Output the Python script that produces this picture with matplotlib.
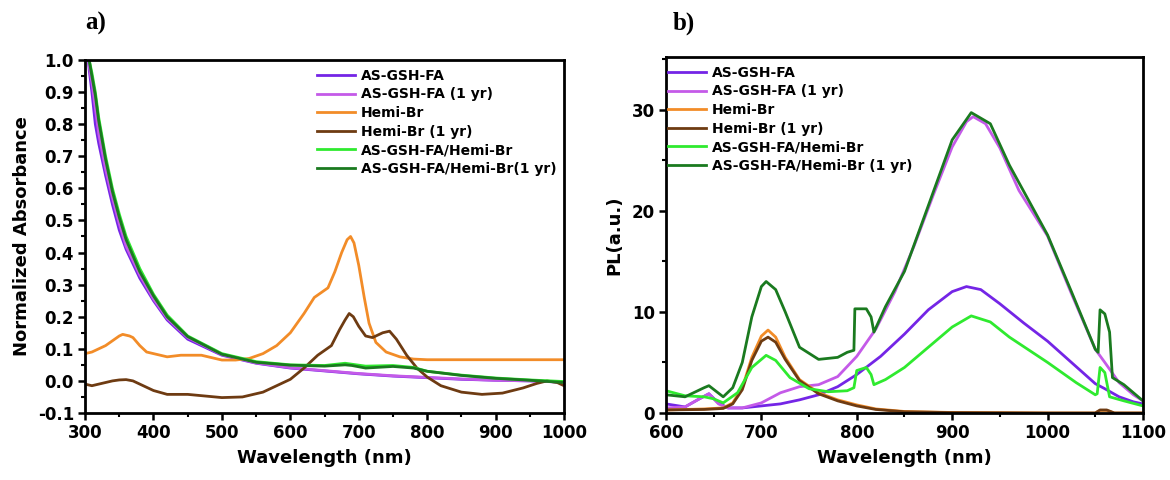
import matplotlib
matplotlib.use("Agg")
import matplotlib.pyplot as plt
from matplotlib.ticker import MultipleLocator

plt.rcParams['font.family'] = ['DejaVu Sans']
plt.rcParams['font.weight'] = 'bold'

# ---- panel a) absorbance ----
abs_labels = ["AS-GSH-FA", "AS-GSH-FA (1 yr)", "Hemi-Br", "Hemi-Br (1 yr)",
              "AS-GSH-FA/Hemi-Br", "AS-GSH-FA/Hemi-Br(1 yr)"]

wl_fa = [303, 306, 310, 315, 320, 330, 340, 350, 360, 380, 400, 420, 450, 500,
         550, 600, 650, 700, 750, 800, 850, 900, 950, 1000]
abs_fa = [1.05, 0.97, 0.9, 0.8, 0.74, 0.64, 0.55, 0.47, 0.41, 0.32, 0.25, 0.19, 0.13,
          0.08, 0.055, 0.04, 0.031, 0.022, 0.015, 0.01, 0.005, 0.002, 0.0, -0.004]
abs_fa_1yr = [1.05, 0.98, 0.93, 0.85, 0.77, 0.66, 0.57, 0.49, 0.42, 0.33, 0.255, 0.195,
              0.135, 0.082, 0.056, 0.041, 0.032, 0.023, 0.016, 0.011, 0.006, 0.002, 0.0,
              -0.004]

wl_mix = [303, 306, 310, 315, 320, 330, 340, 350, 360, 380, 400, 420, 450, 500, 550,
          600, 650, 680, 690, 710, 750, 780, 800, 850, 900, 950, 1000]
abs_mix = [1.05, 1.0, 0.96, 0.9, 0.82, 0.7, 0.6, 0.52, 0.45, 0.35, 0.27, 0.205, 0.14,
           0.085, 0.06, 0.05, 0.048, 0.055, 0.052, 0.046, 0.048, 0.042, 0.03, 0.018,
           0.009, 0.003, -0.002]
abs_mix_1yr = [1.05, 1.0, 0.95, 0.89, 0.81, 0.69, 0.59, 0.51, 0.44, 0.34, 0.265, 0.2,
               0.138, 0.083, 0.058, 0.049, 0.046, 0.05, 0.048, 0.04, 0.045, 0.04, 0.03,
               0.017, 0.008, 0.002, -0.005]

wl_hb = [300, 310, 320, 330, 340, 350, 355, 365, 370, 380, 390, 400, 420, 440, 450,
         470, 480, 500, 520, 540, 560, 580, 600, 620, 635, 645, 655, 665, 675, 683,
         688, 693, 700, 708, 715, 725, 740, 760, 780, 800, 850, 900, 950, 1000]
abs_hb = [0.085, 0.09, 0.1, 0.11, 0.125, 0.14, 0.145, 0.14, 0.135, 0.11, 0.09, 0.085,
          0.075, 0.08, 0.08, 0.08, 0.075, 0.065, 0.065, 0.07, 0.085, 0.11, 0.15, 0.21,
          0.26, 0.275, 0.29, 0.34, 0.4, 0.44, 0.45, 0.43, 0.36, 0.26, 0.18, 0.12, 0.09,
          0.075, 0.068, 0.066, 0.066, 0.066, 0.066, 0.066]

wl_hb1 = [300, 310, 320, 330, 340, 350, 360, 370, 380, 400, 420, 450, 480, 500, 530,
          560, 580, 600, 620, 640, 660, 672, 680, 686, 692, 700, 710, 720, 735, 745,
          755, 770, 785, 800, 820, 850, 880, 910, 940, 960, 975, 990, 1000]
abs_hb1 = [-0.01, -0.015, -0.01, -0.005, 0.0, 0.003, 0.004, 0.0, -0.01, -0.03, -0.042,
           -0.042, -0.048, -0.052, -0.05, -0.035, -0.015, 0.005, 0.04, 0.08, 0.11, 0.16,
           0.19, 0.21, 0.2, 0.17, 0.14, 0.135, 0.15, 0.155, 0.13, 0.08, 0.04, 0.012,
           -0.015, -0.035, -0.042, -0.038, -0.022, -0.008, 0.0, -0.005, -0.015]

# ---- panel b) PL ----
pl_labels = ["AS-GSH-FA", "AS-GSH-FA (1 yr)", "Hemi-Br", "Hemi-Br (1 yr)",
             "AS-GSH-FA/Hemi-Br", "AS-GSH-FA/Hemi-Br (1 yr)"]

wl_pl_fa = [600, 620, 635, 645, 655, 665, 680, 700, 720, 740, 760, 780, 800, 825,
            850, 875, 900, 915, 930, 950, 975, 1000, 1025, 1050, 1060, 1075, 1090, 1100]
pl_fa = [0.9, 0.6, 1.4, 1.9, 1.0, 0.5, 0.5, 0.7, 0.9, 1.3, 1.8, 2.6, 3.8, 5.6, 7.8,
         10.2, 12.0, 12.5, 12.2, 10.8, 8.9, 7.1, 5.0, 2.9, 2.4, 1.6, 1.1, 0.9]

wl_pl_fa1 = [600, 620, 635, 645, 655, 665, 680, 700, 720, 740, 760, 780, 800, 820,
             840, 860, 880, 900, 915, 922, 935, 950, 970, 1000, 1025, 1050, 1060, 1075,
             1090, 1100]
pl_fa1 = [0.5, 0.6, 1.4, 1.9, 0.9, 0.5, 0.5, 1.0, 2.0, 2.6, 2.8, 3.6, 5.6, 8.3, 12.0,
          16.5, 21.5, 26.3, 28.8, 29.3, 28.6, 26.2, 22.0, 17.5, 11.8, 6.3, 5.0, 3.0,
          1.8, 1.2]

wl_pl_hb = [600, 640, 660, 670, 680, 690, 700, 707, 715, 725, 740, 760, 780, 800, 820,
            850, 900, 1000, 1050, 1055, 1062, 1070, 1100]
pl_hb = [0.3, 0.4, 0.5, 1.0, 2.5, 5.5, 7.6, 8.2, 7.5, 5.5, 3.3, 2.0, 1.3, 0.8, 0.4,
         0.15, 0.05, 0.0, 0.0, 0.25, 0.25, 0.0, 0.0]
pl_hb1 = [0.3, 0.35, 0.45, 0.9, 2.3, 5.2, 7.1, 7.5, 7.0, 5.3, 3.2, 1.9, 1.2, 0.7, 0.35,
          0.12, 0.04, 0.0, 0.0, 0.3, 0.3, 0.0, 0.0]

wl_pl_mix = [600, 620, 640, 650, 660, 675, 690, 705, 715, 730, 750, 770, 790, 797,
             800, 810, 815, 818, 830, 850, 875, 900, 920, 940, 960, 1000, 1030, 1050,
             1052, 1055, 1060, 1065, 1080, 1100]
pl_mix = [2.2, 1.7, 1.6, 1.4, 1.0, 2.0, 4.5, 5.7, 5.2, 3.5, 2.4, 2.1, 2.2, 2.5, 4.2,
          4.5, 3.8, 2.8, 3.3, 4.5, 6.5, 8.5, 9.6, 9.0, 7.5, 5.0, 3.0, 1.8, 1.9, 4.5,
          4.0, 1.6, 1.2, 0.7]

wl_pl_mix1 = [600, 620, 640, 645, 660, 670, 680, 690, 700, 705, 715, 725, 740, 760,
              780, 790, 797, 798, 810, 815, 818, 830, 850, 875, 900, 920, 940, 960,
              1000, 1025, 1050, 1053, 1055, 1060, 1065, 1068, 1080, 1100]
pl_mix1 = [1.8, 1.6, 2.5, 2.7, 1.6, 2.5, 5.0, 9.5, 12.5, 13.0, 12.2, 10.0, 6.5, 5.3,
           5.5, 6.0, 6.2, 10.3, 10.3, 9.5, 8.0, 10.5, 14.0, 20.5, 27.0, 29.7, 28.6,
           24.5, 17.6, 12.0, 6.3, 6.0, 10.2, 9.8, 8.0, 3.5, 2.8, 1.2]

colors = ["#7425e6", "#c45ae8", "#f28c28", "#6e3b12", "#2fea2f", "#1a7a1f"]

fig = plt.figure(figsize=(11.7, 4.8), dpi=100)
ax1 = fig.add_axes([0.0727, 0.1396, 0.4094, 0.7354])
ax2 = fig.add_axes([0.5692, 0.1396, 0.4077, 0.7417])

lw = 2.0
ax1.plot(wl_fa, abs_fa, color=colors[0], lw=lw, label=abs_labels[0])
ax1.plot(wl_fa, abs_fa_1yr, color=colors[1], lw=lw, label=abs_labels[1])
ax1.plot(wl_hb, abs_hb, color=colors[2], lw=lw, label=abs_labels[2])
ax1.plot(wl_hb1, abs_hb1, color=colors[3], lw=lw, label=abs_labels[3])
ax1.plot(wl_mix, abs_mix, color=colors[4], lw=lw, label=abs_labels[4])
ax1.plot(wl_mix, abs_mix_1yr, color=colors[5], lw=lw, label=abs_labels[5])

ax2.plot(wl_pl_fa, pl_fa, color=colors[0], lw=lw, label=pl_labels[0])
ax2.plot(wl_pl_fa1, pl_fa1, color=colors[1], lw=lw, label=pl_labels[1])
ax2.plot(wl_pl_hb, pl_hb, color=colors[2], lw=lw, label=pl_labels[2])
ax2.plot(wl_pl_hb, pl_hb1, color=colors[3], lw=lw, label=pl_labels[3])
ax2.plot(wl_pl_mix, pl_mix, color=colors[4], lw=lw, label=pl_labels[4])
ax2.plot(wl_pl_mix1, pl_mix1, color=colors[5], lw=lw, label=pl_labels[5])

ax1.set_xlim(300, 1000)
ax1.set_ylim(-0.1, 1.0)
ax1.xaxis.set_major_locator(MultipleLocator(100))
ax1.xaxis.set_minor_locator(MultipleLocator(50))
ax1.yaxis.set_minor_locator(MultipleLocator(0.05))
ax1.set_yticks([-0.1, 0.0, 0.1, 0.2, 0.3, 0.4, 0.5, 0.6, 0.7, 0.8, 0.9, 1.0])
ax1.set_yticklabels(["-0.1", "0.0", "0.1", "0.2", "0.3", "0.4", "0.5", "0.6", "0.7",
                     "0.8", "0.9", "1.0"])
ax1.set_xlabel("Wavelength (nm)", fontsize=13, fontweight='bold', labelpad=5)
ax1.set_ylabel("Normalized Absorbance", fontsize=13, fontweight='bold', labelpad=5)

ax2.set_xlim(600, 1100)
ax2.set_ylim(0, 35.2)
ax2.xaxis.set_major_locator(MultipleLocator(100))
ax2.xaxis.set_minor_locator(MultipleLocator(50))
ax2.yaxis.set_major_locator(MultipleLocator(10))
ax2.yaxis.set_minor_locator(MultipleLocator(5))
ax2.set_xlabel("Wavelength (nm)", fontsize=13, fontweight='bold', labelpad=5)
ax2.set_ylabel("PL(a.u.)", fontsize=13, fontweight='bold', labelpad=6)

for ax in (ax1, ax2):
    for s in ax.spines.values():
        s.set_linewidth(2.0)
    ax.tick_params(which='major', direction='out', length=5, width=1.8,
                   labelsize=12, top=False, right=False, pad=3)
    ax.tick_params(which='minor', direction='out', length=3, width=1.5,
                   top=False, right=False)
    for t in ax.get_xticklabels() + ax.get_yticklabels():
        t.set_fontweight('bold')

leg_kw = dict(frameon=False, handlelength=2.75, handletextpad=0.4, labelspacing=0.33,
              borderaxespad=0, borderpad=0, prop={'weight': 'bold', 'size': 10})
ax1.legend(loc='upper left', bbox_to_anchor=(0.484, 0.975), **leg_kw)
ax2.legend(loc='upper left', bbox_to_anchor=(0.004, 0.975), **leg_kw)

fig.text(0.073, 0.952, "a)", fontsize=18, fontweight='bold',
         family=['Liberation Serif', 'DejaVu Serif'], va='center')
fig.text(0.575, 0.952, "b)", fontsize=18, fontweight='bold',
         family=['Liberation Serif', 'DejaVu Serif'], va='center')

fig.savefig("out.png", dpi=100)
